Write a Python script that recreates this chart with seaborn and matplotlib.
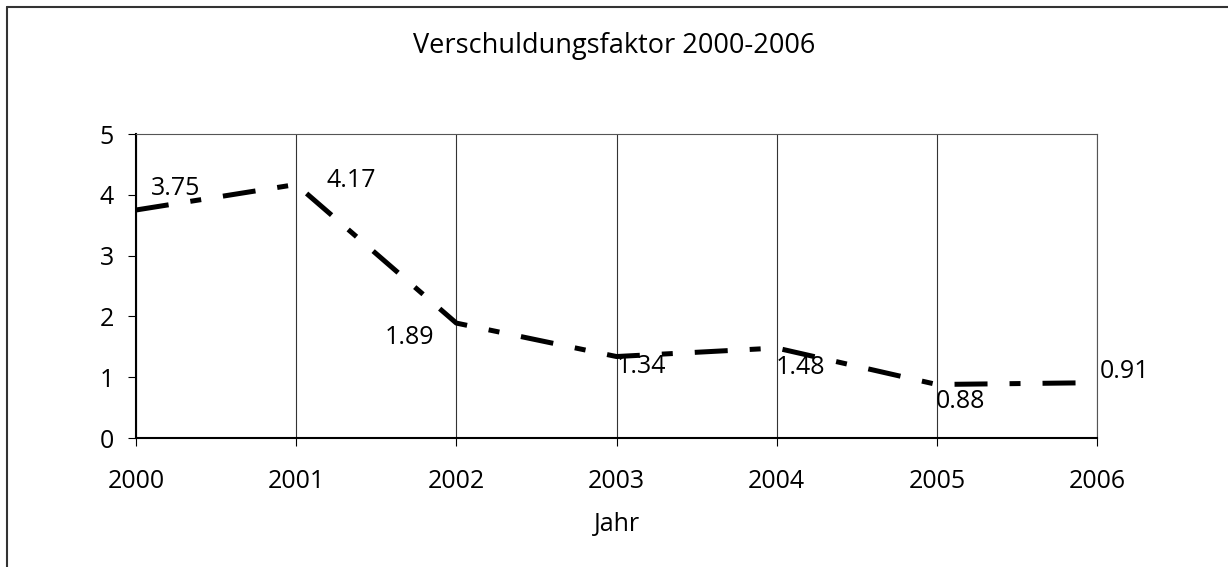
import pandas as pd
import seaborn as sns
import matplotlib
matplotlib.use("Agg")
from matplotlib import pyplot as plt
from matplotlib.lines import Line2D

years = [2000, 2001, 2002, 2003, 2004, 2005, 2006]
faktor = [3.75, 4.17, 1.89, 1.34, 1.48, 0.88, 0.91]
y_ticks = [0, 1, 2, 3, 4, 5]

# where Excel put each data label, in pixels from its point (right, up)
label_offsets = [(40, 21), (55, 4), (-47, -14), (25, -10), (24, -19), (24, -17), (28, 11)]

sns.set_theme(style="white")
plt.rcParams["font.family"] = ["Open Sans", "DejaVu Sans"]

fig = plt.figure(figsize=(12.28, 5.67), dpi=100)
ax = fig.add_axes([136 / 1228, 1 - 438 / 567, 961 / 1228, 304 / 567])

df = pd.DataFrame({"Jahr": years, "Faktor": faktor})
sns.lineplot(data=df, x="Jahr", y="Faktor", color="black", linewidth=3.6, ax=ax)
line = ax.lines[0]
line.set_dashes([6.6, 4.4, 2.2, 4.4])
line.set_dash_capstyle("butt")
line.set_clip_on(False)

ax.set_xlim(years[0], years[-1])
ax.set_ylim(0, 5)
ax.set_xticks(years)
ax.set_yticks(y_ticks)
ax.xaxis.grid(True, color="#333333", linewidth=0.8)
ax.yaxis.grid(False)

for side in ["left", "bottom"]:
    ax.spines[side].set_color("black")
    ax.spines[side].set_linewidth(1.5)
for side in ["top", "right"]:
    ax.spines[side].set_color("#555555")
    ax.spines[side].set_linewidth(0.8)

ax.tick_params(axis="both", direction="out", length=6, width=0.8, color="black",
               labelsize=18, labelcolor="black", bottom=True, left=True)
ax.tick_params(axis="x", pad=16)
ax.tick_params(axis="y", pad=10)

ax.set_xlabel("Jahr", fontsize=18, color="black", labelpad=13)
ax.set_ylabel("")

for x, v, (dx, dy) in zip(years, faktor, label_offsets):
    ax.annotate(f"{v:.2f}", (x, v), xytext=(dx, dy), textcoords="offset pixels",
                ha="center", va="center", fontsize=18, color="black")

fig.text(0.5, 1 - 53 / 567, "Verschuldungsfaktor 2000-2006", ha="center", va="baseline",
         fontsize=19.5, color="black")

# chart area border (only left and top edges fall inside the picture)
fig.add_artist(Line2D([7 / 1228, 7 / 1228], [0, 1 - 7 / 567], transform=fig.transFigure,
                      color="#333333", linewidth=1.5))
fig.add_artist(Line2D([7 / 1228, 1], [1 - 7 / 567, 1 - 7 / 567], transform=fig.transFigure,
                      color="#333333", linewidth=1.5))

fig.savefig("out.png", dpi=100)
